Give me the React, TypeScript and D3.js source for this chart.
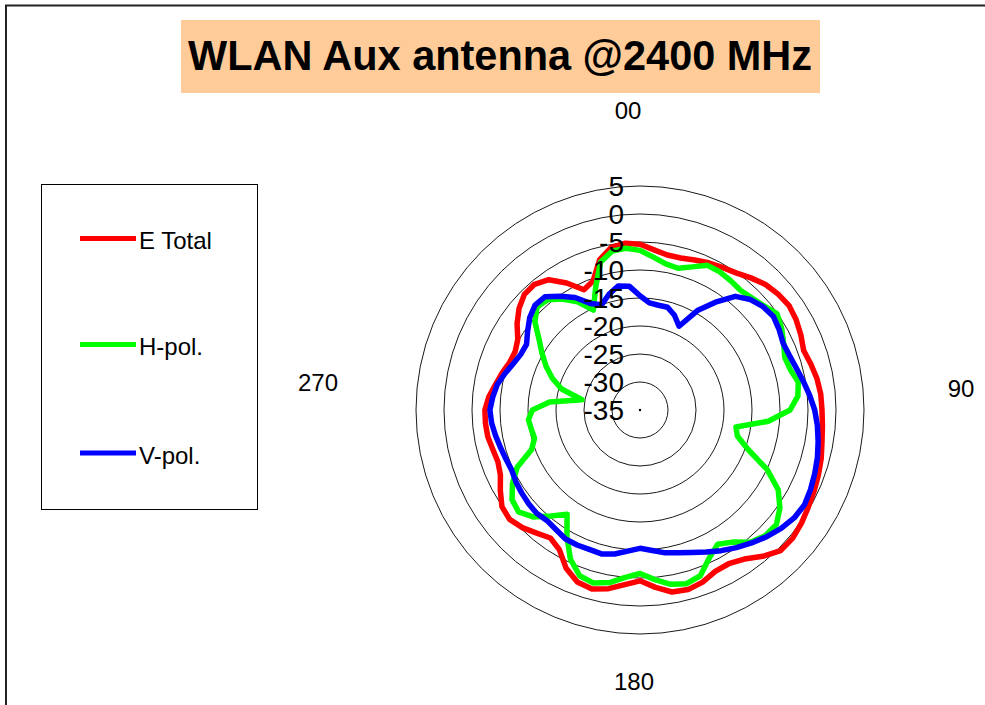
import React from "react";
import * as d3 from "d3";

const angles: number[] = d3.range(0, 360, 5);

const eTotal: number[] = [
  -5.4, -6.3, -6.9, -6.9, -6.5, -6.0, -5.6, -5.1, -4.2, -3.3, -2.8, -2.5,
  -2.8, -3.3, -3.9, -3.4, -2.9, -2.6, -2.5, -2.3, -2.0, -1.5, -1.1, -0.7,
  -0.3, 0.2, 0.6, 0.5, -0.9, -2.5, -3.3, -3.2, -2.3, -1.8, -2.0, -3.2,
  -4.5, -3.7, -2.6, -1.9, -2.3, -3.8, -6.2, -7.1, -6.3, -5.3, -4.6, -4.9,
  -6.2, -7.5, -8.0, -7.8, -7.4, -7.3, -7.3, -7.9, -8.8, -9.5, -10.2, -10.4,
  -9.8, -8.2, -6.8, -5.8, -5.7, -6.6, -8.8, -11.3, -10.5, -7.2, -5.5, -5.1,
];

const hPol: number[] = [
  -6.5, -7.6, -8.5, -8.8, -7.8, -6.5, -6.5, -6.8, -7.1, -6.7, -6.1, -5.1,
  -5.8, -6.7, -7.5, -7.2, -6.3, -6.7, -8.2, -12.0, -17.6, -17.0, -14.5, -10.0,
  -6.5, -4.5, -3.2, -3.3, -4.2, -6.2, -7.3, -5.8, -3.5, -2.9, -3.4, -4.6,
  -5.8, -5.0, -3.7, -3.0, -3.5, -5.6, -8.9, -12.3, -10.3, -8.0, -6.7, -7.1,
  -8.7, -10.8, -14.4, -15.5, -15.3, -15.0, -15.8, -18.8, -24.5, -20.5, -18.3, -16.5,
  -14.8, -13.0, -10.5, -9.0, -9.3, -10.8, -12.7, -15.3, -11.8, -7.7, -6.2, -6.0,
];

const vPol: number[] = [
  -14.6, -15.8, -16.0, -16.0, -17.0, -18.5, -14.5, -11.5, -8.5, -7.1, -6.3, -5.9,
  -6.3, -6.8, -6.6, -6.1, -5.4, -4.6, -3.8, -3.2, -2.7, -2.2, -1.8, -1.4,
  -1.1, -1.4, -2.1, -3.0, -4.0, -5.0, -6.0, -7.0, -7.9, -8.6, -9.1, -9.8,
  -10.3, -9.7, -8.9, -8.4, -8.5, -8.4, -8.4, -8.9, -9.2, -8.9, -9.0, -9.2,
  -9.4, -9.7, -9.5, -9.2, -8.8, -8.4, -8.2, -8.6, -9.1, -10.0, -10.9, -11.5,
  -11.6, -10.5, -9.3, -8.5, -8.6, -10.2, -11.8, -14.0, -15.0, -13.6, -12.5, -12.8,
];

const ringTicks: number[] = [5, 0, -5, -10, -15, -20, -25, -30, -35];
const angleLabels: string[] = ["00", "90", "180", "270"];
const seriesNames: string[] = ["E Total", "H-pol.", "V-pol."];
const seriesColors: string[] = ["#FF0000", "#00FF00", "#0000FF"];
const title = "WLAN Aux antenna @2400 MHz";

const FONT = "'Liberation Sans', Arial, Helvetica, sans-serif";

export default function App() {
  const cx = 640;
  const cy = 410;
  const r = d3.scaleLinear().domain([-35, 5]).range([0, 224]);
  const line = d3
    .lineRadial<number>()
    .angle((_, i) => (angles[i] * Math.PI) / 180)
    .radius((v) => r(v))
    .curve(d3.curveLinearClosed);

  const series = [eTotal, hPol, vPol];

  const anglePos = [
    { x: 628, y: 119 },
    { x: 961, y: 397 },
    { x: 634, y: 690 },
    { x: 318, y: 391 },
  ];
  const legendY = [238.5, 344.5, 453];

  return (
    <svg
      width={985}
      height={705}
      style={{ position: "absolute", left: 0, top: 0, display: "block", background: "#fff" }}
    >
      <path d="M6,705 V5.5 H985" fill="none" stroke="#222" strokeWidth={2} />
      <rect x={181} y={20} width={639} height={73} fill="#FFCC99" />
      <text
        x={500}
        y={70}
        textAnchor="middle"
        fontFamily={FONT}
        fontWeight="bold"
        fontSize={42}
        textLength={624}
        lengthAdjust="spacingAndGlyphs"
        fill="#000"
      >
        {title}
      </text>

      {angleLabels.map((t, i) => (
        <text
          key={t}
          x={anglePos[i].x}
          y={anglePos[i].y}
          textAnchor="middle"
          fontFamily={FONT}
          fontSize={24}
          fill="#000"
        >
          {t}
        </text>
      ))}

      <g transform={`translate(${cx},${cy})`}>
        {ringTicks
          .filter((t) => t > -35)
          .map((t) => (
            <circle key={t} r={r(t)} fill="none" stroke="#000" strokeWidth={0.9} />
          ))}
        <circle r={1.2} fill="#000" />
        {series.map((s, i) => (
          <path
            key={i}
            d={line(s) || ""}
            fill="none"
            stroke={seriesColors[i]}
            strokeWidth={5.5}
            strokeLinejoin="round"
          />
        ))}
        {ringTicks.map((t) => (
          <text
            key={t}
            x={-16}
            y={-r(t)}
            dy="0.36em"
            textAnchor="end"
            fontFamily={FONT}
            fontSize={28}
            fill="#000"
          >
            {t}
          </text>
        ))}
      </g>

      <rect x={41.5} y={184.5} width={216} height={325} fill="none" stroke="#000" strokeWidth={1} />
      {seriesNames.map((n, i) => (
        <g key={n}>
          <line
            x1={80}
            x2={136}
            y1={legendY[i]}
            y2={legendY[i]}
            stroke={seriesColors[i]}
            strokeWidth={5}
          />
          <text
            x={139}
            y={legendY[i] + 10.5}
            fontFamily={FONT}
            fontSize={24}
            fill="#000"
          >
            {n}
          </text>
        </g>
      ))}
    </svg>
  );
}
